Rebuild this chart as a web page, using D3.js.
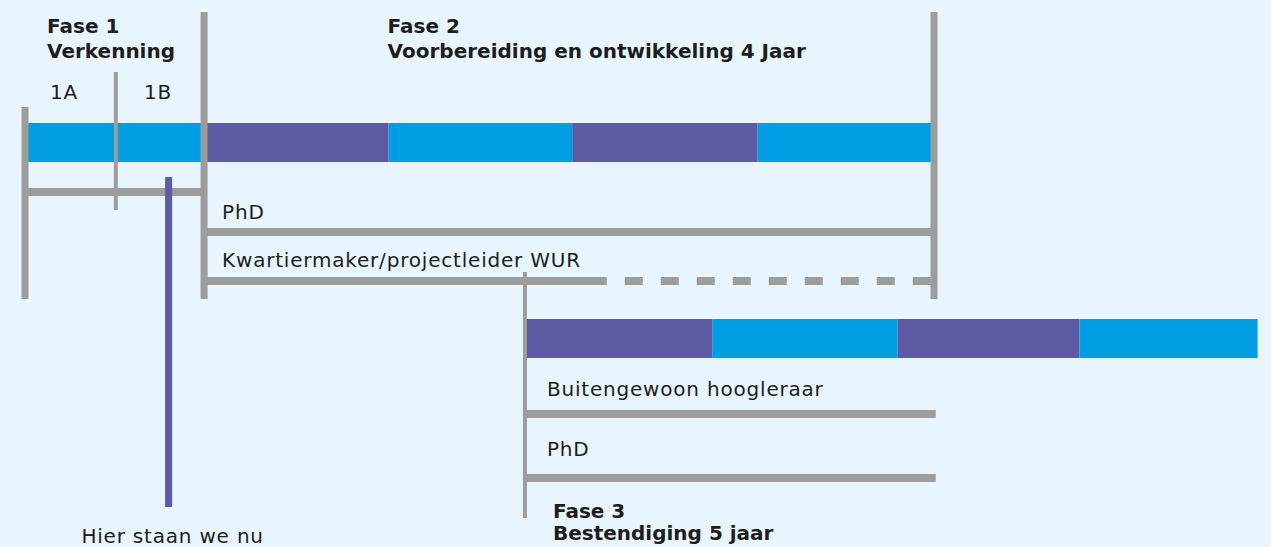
<!DOCTYPE html>
<html>
<head>
<meta charset="utf-8">
<script src="https://cdn.jsdelivr.net/npm/d3@7"></script>
<style>
  html, body { margin: 0; padding: 0; background: #e8f5fe; }
  svg { display: block; font-family: "DejaVu Sans", sans-serif; }
  .lbl { font-size: 20px; letter-spacing: 0.8px; fill: #1d1d1b; }
  .ttl { font-size: 20px; font-weight: bold; fill: #1d1d1b; }
</style>
</head>
<body>
<svg id="chart" width="1271" height="547"></svg>
<script>
// time in years from start of Fase 1
const phaseTitles = [
  { t: 0, lines: ['Fase 1', 'Verkenning'] },
  { t: 2, lines: ['Fase 2', 'Voorbereiding en ontwikkeling 4 Jaar'] },
  { t: 2.75, lines: ['Fase 3', 'Bestendiging 5 jaar'] }
];
const subPhases = [
  { t: 0, label: '1A' },
  { t: 0.5, label: '1B' }
];
// bar segments: [start, end, colour key]
const bar1Segments = [
  [0, 0.985, 'c'], [0.985, 2.0, 'p'], [2.0, 3.01, 'c'], [3.01, 4.03, 'p'], [4.03, 5.0, 'c']
];
const bar2Segments = [
  [2.75, 3.78, 'p'], [3.78, 4.80, 'c'], [4.80, 5.80, 'p'], [5.80, 6.78, 'c']
];
// role lines
const roles = [
  { lane: 'phd1', label: 'PhD', start: 0.985, end: 5.0, dashFrom: null },
  { lane: 'kwart', label: 'Kwartiermaker/projectleider WUR', start: 0.985, end: 5.0, dashFrom: 3.2 },
  { lane: 'buiten', label: 'Buitengewoon hoogleraar', start: 2.75, end: 5.01, dashFrom: null },
  { lane: 'phd2', label: 'PhD', start: 2.75, end: 5.01, dashFrom: null }
];
const fase1Span = [0, 0.985];
// vertical phase markers
const markers = [
  { t: 0, top: 'm0', bottom: 'end1', heavy: true },
  { t: 0.5, top: 'sub', bottom: 'subEnd', heavy: false },
  { t: 0.985, top: 'top', bottom: 'end1', heavy: true },
  { t: 5.0, top: 'top', bottom: 'end1', heavy: true },
  { t: 2.75, top: 'f3top', bottom: 'f3end', heavy: false }
];
const nowT = 0.79;
const nowLabel = 'Hier staan we nu';

const colors = { c: '#009fe3', p: '#5b5aa3' };
const grey = '#9d9d9c';

const svg = d3.select('#chart');

const x = d3.scaleLinear()
  .domain([0, 5])
  .range([25, 934]);

// vertical layout of the lanes
const y = d3.scaleOrdinal()
  .domain(['top', 'sub', 'm0', 'bar1', 'fase1', 'subEnd', 'phd1', 'kwart', 'f3top', 'end1', 'bar2', 'buiten', 'phd2', 'f3end', 'nowTop', 'nowEnd'])
  .range([12, 72, 107, 142.5, 192, 210, 232, 281, 272, 299, 338.5, 414, 478, 518, 177, 507]);
const barH = 39;

// bars
const bars = svg.append('g');
bars.selectAll('rect.b1')
  .data(bar1Segments)
  .enter()
  .append('rect')
  .attr('class', 'b1')
  .attr('x', d => x(d[0]))
  .attr('width', d => x(d[1]) - x(d[0]))
  .attr('y', y('bar1') - barH / 2)
  .attr('height', barH)
  .attr('fill', d => colors[d[2]]);

bars.selectAll('rect.b2')
  .data(bar2Segments)
  .enter()
  .append('rect')
  .attr('class', 'b2')
  .attr('x', d => x(d[0]))
  .attr('width', d => x(d[1]) - x(d[0]))
  .attr('y', y('bar2') - barH / 2)
  .attr('height', barH)
  .attr('fill', d => colors[d[2]]);

// fase 1 horizontal
svg.append('line')
  .attr('x1', x(fase1Span[0])).attr('x2', x(fase1Span[1]))
  .attr('y1', y('fase1')).attr('y2', y('fase1'))
  .attr('stroke', grey).attr('stroke-width', 8);

// role lines
const roleG = svg.append('g');
roles.forEach(r => {
  const solidEnd = r.dashFrom == null ? r.end : r.dashFrom;
  roleG.append('line')
    .attr('x1', x(r.start)).attr('x2', x(solidEnd))
    .attr('y1', y(r.lane)).attr('y2', y(r.lane))
    .attr('stroke', grey).attr('stroke-width', 8);
  if (r.dashFrom != null) {
    // starts with a gap right after the solid part
    roleG.append('line')
      .attr('x1', x(r.dashFrom)).attr('x2', x(r.end))
      .attr('y1', y(r.lane)).attr('y2', y(r.lane))
      .attr('stroke', grey).attr('stroke-width', 8)
      .attr('stroke-dasharray', '18 18')
      .attr('stroke-dashoffset', 18);
  }
});

// vertical markers
svg.append('g').selectAll('line')
  .data(markers)
  .enter()
  .append('line')
  .attr('x1', d => x(d.t)).attr('x2', d => x(d.t))
  .attr('y1', d => y(d.top)).attr('y2', d => y(d.bottom))
  .attr('stroke', grey)
  .attr('stroke-width', d => d.heavy ? 7 : 4);

// "now" marker
svg.append('line')
  .attr('x1', x(nowT)).attr('x2', x(nowT))
  .attr('y1', y('nowTop')).attr('y2', y('nowEnd'))
  .attr('stroke', colors.p).attr('stroke-width', 7);

svg.append('text')
  .attr('class', 'lbl')
  .attr('x', x(nowT) + 4)
  .attr('y', 543)
  .attr('text-anchor', 'middle')
  .text(nowLabel);

// role labels
const labelOffset = { phd1: [18, -13], kwart: [18, -14], buiten: [22, -18], phd2: [22, -22] };
roleG.selectAll('text')
  .data(roles)
  .enter()
  .append('text')
  .attr('class', 'lbl')
  .attr('x', d => x(d.start) + labelOffset[d.lane][0])
  .attr('y', d => y(d.lane) + labelOffset[d.lane][1])
  .text(d => d.label);

// sub phase labels
svg.append('g').selectAll('text')
  .data(subPhases)
  .enter()
  .append('text')
  .attr('class', 'lbl')
  .attr('x', (d, i) => x(d.t) + (i ? 28 : 25))
  .attr('y', 99)
  .text(d => d.label);

// phase titles
const titleY = [[33, 58], [33, 58], [518, 540]];
const titleDx = [22, -1, 28];
phaseTitles.forEach((p, i) => {
  p.lines.forEach((ln, j) => {
    svg.append('text')
      .attr('class', 'ttl')
      .attr('x', x(p.t) + titleDx[i])
      .attr('y', titleY[i][j])
      .text(ln);
  });
});
</script>
</body>
</html>
